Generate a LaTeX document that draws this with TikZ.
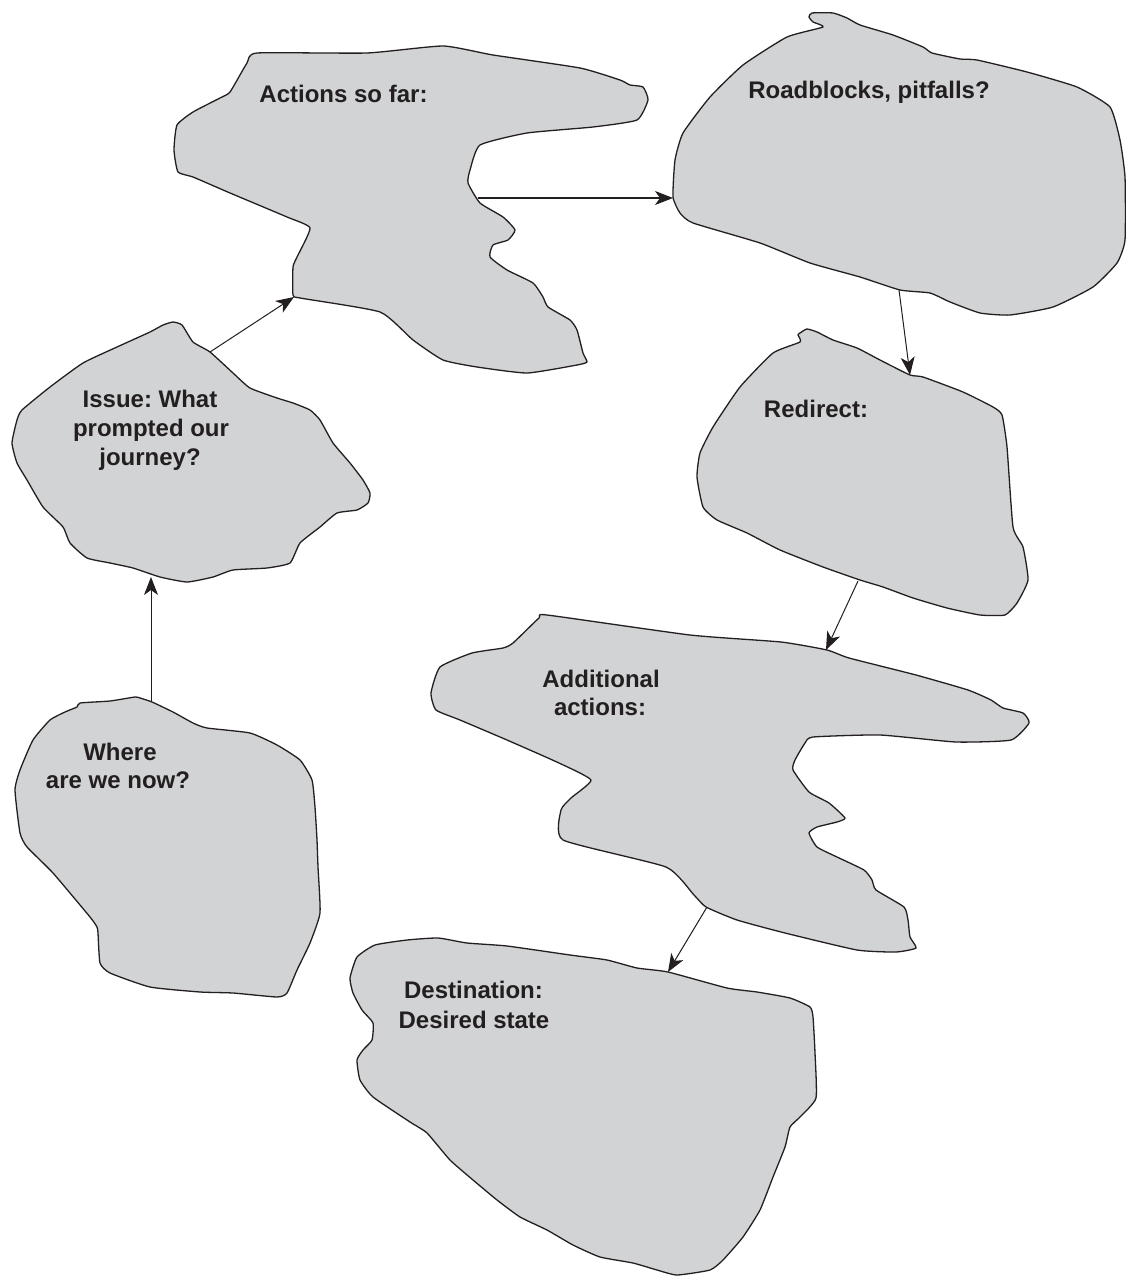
\documentclass[tikz,border=0pt]{standalone}
\usepackage{fontspec}
\setmainfont{Liberation Sans}
\usetikzlibrary{arrows.meta}
\definecolor{blobgray}{HTML}{D1D3D4}
\definecolor{ink}{HTML}{231F20}
\frenchspacing
\begin{document}
\begin{tikzpicture}[x=1pt,y=-1pt,
  blob/.style={fill=blobgray,draw=ink,line width=1.3pt,line join=round},
  lbl/.style={anchor=base,inner sep=0pt,text=ink,font=\fontsize{24}{29}\selectfont\bfseries},
  conn/.style={draw=ink,line width=1pt,-{Stealth[length=18pt,width=14pt,inset=5pt]}}]
\useasboundingbox[fill=white] (0,0) rectangle (1125,1276);

% Actions so far
\filldraw[blob] plot[smooth cycle,tension=0.3] coordinates {
 (257,53) (367,53) (443,46) (493,55) (580,68) (620,80) (630,85) (643,87) (648,100)
 (637,120) (593,127) (527,133) (480,145) (470,170) (468,183) (480,203) (503,217)
 (515,230) (508,240) (493,245) (490,257) (507,270) (533,283) (543,297) (548,307)
 (570,320) (577,330) (583,353) (587,362) (577,365) (527,373) (477,367) (443,360)
 (413,340) (380,312) (300,298) (293,295) (293,267) (297,257) (310,228) (287,217)
 (230,193) (193,177) (178,172) (174,150) (177,125) (193,112) (220,98) (230,92) (247,63)};

% Roadblocks
\filldraw[blob] plot[smooth cycle,tension=0.3] coordinates {
 (812,13) (833,13) (847,18) (860,25) (893,35) (923,47) (932,53) (960,59) (977,60)
 (1027,72) (1077,87) (1110,107) (1120,140) (1125,177) (1125,240) (1117,263)
 (1093,287) (1053,307) (1010,315) (980,313) (950,302) (930,293) (900,290)
 (860,277) (810,263) (760,243) (693,223) (680,213) (673,197) (675,160) (683,133)
 (710,97) (743,65) (787,37) (823,27) (813,22) (809,17)};

% Issue
\filldraw[blob] plot[smooth cycle,tension=0.3] coordinates {
 (173,322) (182,325) (193,342) (210,352) (233,373) (250,388) (277,398) (293,403)
 (310,410) (320,420) (333,443) (350,463) (363,480) (370,493) (368,503) (357,510)
 (337,513) (320,527) (300,543) (290,563) (267,568) (233,570) (213,577) (187,582)
 (160,577) (133,568) (110,563) (87,558) (70,543) (63,527) (43,507) (27,480)
 (17,463) (12,443) (17,420) (22,410) (50,387) (83,363) (117,347) (150,332) (163,325)};

% Where are we now
\filldraw[blob] plot[smooth cycle,tension=0.3] coordinates {
 (80,703) (110,701) (135,697) (140,698) (152,702) (173,712) (193,723) (207,728)
 (250,733) (277,745) (300,760) (312,780) (315,807) (317,840) (318,867) (320,913)
 (310,943) (297,970) (287,993) (277,997) (233,993) (200,992) (150,987) (110,973)
 (100,963) (98,933) (97,927) (90,917) (53,873) (27,847) (20,833) (15,790)
 (20,770) (33,740) (50,720) (65,712) (77,707)};

% Redirect
\filldraw[blob] plot[smooth cycle,tension=0.3] coordinates {
 (800,333) (807,329) (817,332) (833,340) (857,348) (880,360) (910,375) (923,377)
 (963,392) (993,407) (1002,415) (1007,447) (1013,527) (1023,547) (1028,580)
 (1017,603) (1005,615) (980,615) (947,608) (913,598) (883,587) (860,580)
 (823,567) (780,550) (747,533) (717,520) (703,507) (697,477) (700,453) (713,427)
 (740,387) (773,353) (800,342) (798,335)};

% Additional actions
\filldraw[blob] plot[smooth cycle,tension=0.3] coordinates {
 (547,615) (690,635) (781,642) (827,650) (849,658) (916,675) (968,690) (991,700)
 (1003,708) (1023,713) (1029,723) (1011,740) (956,742) (880,735) (813,737)
 (805,743) (795,760) (793,770) (809,792) (829,803) (845,818) (837,822) (817,827)
 (809,833) (817,847) (837,857) (864,870) (872,880) (876,890) (904,907) (908,920)
 (910,937) (916,948) (896,952) (857,950) (785,933) (737,920) (706,907) (694,895)
 (666,867) (563,840) (561,810) (571,798) (591,780) (559,763) (507,740) (460,720)
 (436,710) (431,693) (440,667) (472,653) (503,648) (513,643) (539,618)};

% Destination
\filldraw[blob] plot[smooth cycle,tension=0.3] coordinates {
 (375,945) (407,940) (438,938) (467,943) (507,946) (570,955) (607,960) (637,968)
 (668,972) (727,988) (757,992) (790,998) (810,1007) (813,1017) (815,1053)
 (816,1098) (800,1117) (790,1127) (785,1147) (773,1177) (760,1210) (743,1237)
 (723,1260) (710,1270) (677,1275) (657,1270) (633,1263) (600,1257) (573,1245)
 (547,1230) (520,1217) (497,1200) (473,1180) (450,1160) (427,1133) (410,1122)
 (373,1097) (360,1080) (357,1060) (363,1050) (372,1040) (373,1023) (362,1010)
 (353,993) (350,978) (357,957)};

% labels
\node[lbl] (actions) at (343.5,103) {Actions so far:};
\node[lbl] (road) at (869,99) {Roadblocks, pitfalls?};
\node[lbl] (issue1) at (150,407) {Issue: What};
\node[lbl] (issue2) at (151,436) {prompted our};
\node[lbl] (issue3) at (150,465) {journey?};
\node[lbl] (where1) at (120,760) {Where};
\node[lbl] (where2) at (118,788.5) {are we now?};
\node[lbl] (redirect) at (816,417) {Redirect:};
\node[lbl] (add1) at (601,687) {Additional};
\node[lbl] (add2) at (600,715) {actions:};
\node[lbl] (dest1) at (473.5,998) {Destination:};
\node[lbl] (dest2) at (474,1028) {Desired state};

% connector end points on blob outlines
\coordinate (whereTop) at (151,702);
\coordinate (issueBot) at (151,577);
\coordinate (issueTop) at (210,352);
\coordinate (actBot) at (294,297);
\coordinate (actRight) at (478,198);
\coordinate (roadLeft) at (673,198);
\coordinate (roadBot) at (899,290);
\coordinate (redTop) at (910,375);
\coordinate (redBot) at (858,581);
\coordinate (addTop) at (826,650);
\coordinate (addBot) at (707,907);
\coordinate (destTop) at (668,972);

\draw[conn] (whereTop) -- (issueBot);
\draw[conn] (issueTop) -- (actBot);
\draw[conn] (actRight) -- (roadLeft);
\draw[conn] (roadBot) -- (redTop);
\draw[conn] (redBot) -- (addTop);
\draw[conn] (addBot) -- (destTop);
\end{tikzpicture}
\end{document}
